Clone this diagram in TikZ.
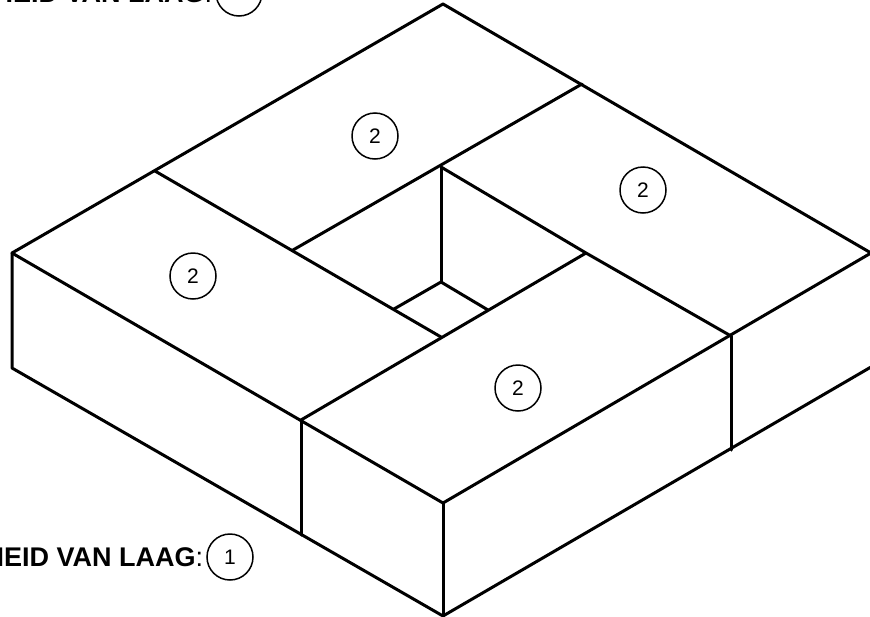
\documentclass[tikz,border=0pt]{standalone}
\usepackage{fontspec}
\setmainfont{Liberation Sans}
\usetikzlibrary{positioning}

\begin{document}
\begin{tikzpicture}[
  x=1pt,y=-1pt,
  node distance=3pt,
  edge/.style={line width=3pt,line cap=round,line join=round},
  number/.style={circle,draw,line width=1.5pt,minimum size=46pt,inner sep=0pt,
    font=\fontsize{21}{24}\selectfont},
  caption/.style={inner sep=0pt,font=\fontsize{27}{30}\selectfont}
]
  \useasboundingbox (0,0) rectangle (870,616);
  % outer corners
  \coordinate (top) at (443,4);
  \coordinate (left) at (12,253);
  \coordinate (right) at (871,253);
  \coordinate (front) at (443,503);
  \coordinate (leftlow) at (12,368);
  \coordinate (bottom) at (443,616);
  \coordinate (rightlow) at (871,367);
  % joints between the blocks
  \coordinate (backleft) at (155,171);
  \coordinate (backright) at (582,84);
  \coordinate (frontleft) at (301,420);
  \coordinate (frontleftlow) at (301,535);
  \coordinate (frontright) at (731,336);
  \coordinate (frontrightlow) at (731,450);
  % the well
  \coordinate (wellback) at (441,167);
  \coordinate (wellleft) at (293,250);
  \coordinate (wellright) at (586,253);
  \coordinate (wellfront) at (441,337);
  \coordinate (floorback) at (441,282);
  \coordinate (floorleft) at (394,309);
  \coordinate (floorright) at (488,310);

  \draw[edge] (top) -- (left) -- (front) -- (right) -- cycle;
  \draw[edge] (left) -- (leftlow) -- (bottom) -- (rightlow);
  \draw[edge] (front) -- (bottom);
  \draw[edge] (frontleft) -- (frontleftlow);
  \draw[edge] (frontright) -- (frontrightlow);
  \draw[edge] (backleft) -- (wellfront);
  \draw[edge] (backright) -- (wellleft);
  \draw[edge] (frontleft) -- (wellright);
  \draw[edge] (wellback) -- (wellright) -- (frontright);
  \draw[edge] (wellback) -- (floorback);
  \draw[edge] (floorleft) -- (floorback) -- (floorright);

  \node[number] (blockback) at (375,136) {2};
  \node[number] (blockright) at (643,190) {2};
  \node[number] (blockleft) at (193,276) {2};
  \node[number] (blockfront) at (518,388) {2};

  \node[number] (layertop) at (239,-7) {};
  \node[caption,left=of layertop] (captiontop) {\textbf{HEID VAN LAAG}:};
  \node[number] (layerbottom) at (230,557) {1};
  \node[caption,left=of layerbottom] (captionbottom) {\textbf{HEID VAN LAAG}:};
\end{tikzpicture}
\end{document}
